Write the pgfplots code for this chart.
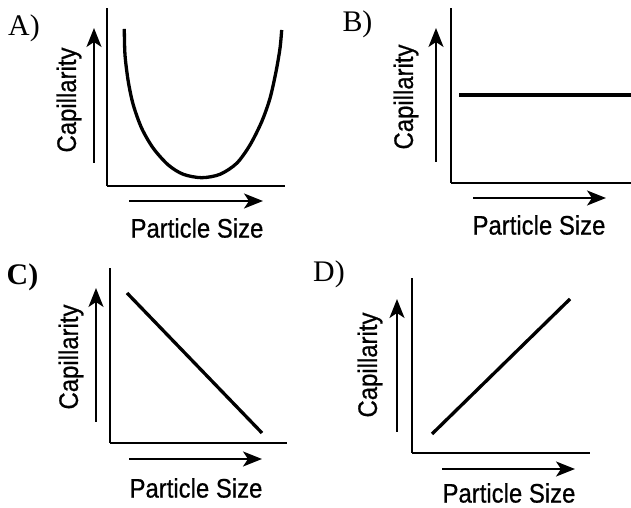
\documentclass[border=0pt]{standalone}
\usepackage{fontspec}
\setmainfont{Liberation Serif}
\newfontfamily\labelsans[FakeBold=0.7]{Liberation Sans}
\usepackage{graphicx}
\usepackage{pgfplots}
\pgfplotsset{compat=1.18}
\usetikzlibrary{arrows.meta}

\pgfplotsset{
  panel/.style={
    scale only axis, anchor=south west, clip=false,
    axis lines=left, axis line style={-, line width=2.1bp, black},
    xtick=\empty, ytick=\empty, xmin=0, ymin=0,
  },
  curve/.style={black, line width=3.3bp, no markers},
}
\tikzset{
  dirarrow/.style={line width=2.2bp, -{Stealth[length=19bp, width=15bp, inset=5bp]}},
  axlabel/.style={font=\labelsans\fontsize{24}{28}\selectfont, inner sep=0pt},
  tag/.style={font=\fontsize{30}{34}\selectfont},
}
\newcommand{\tall}[1]{\scalebox{1}[1.12]{#1}}

\begin{document}
\begin{tikzpicture}[x=1bp, y=1bp]
\useasboundingbox (0,0) rectangle (631,508);

% A) U-shaped
\begin{axis}[panel, at={(107,322)}, width=178bp, height=178bp, xmax=178, ymax=178]
  \addplot[curve, smooth] coordinates {
    (17.3,157) (18,131) (21.3,104.3) (26.3,81) (34.7,57.7) (46.3,37.7)
    (61.3,21) (76.3,11.7) (94.7,8.3) (113,11.7) (129.7,22.7) (143,41)
    (154.7,64.3) (163,87.7) (169,114.3) (173,137.7) (174.7,156)};
\end{axis}
\draw[dirarrow] (94,345) -- (94,480);
\draw[dirarrow] (129,307) -- (263,307);
\node[axlabel, rotate=90] at (69,408) {\tall{Capillarity}};
\node[axlabel] at (197,280) {\tall{Particle Size}};
\node[tag] at (24,480) {A)};

% B) constant
\begin{axis}[panel, at={(451,325)}, width=180bp, height=175bp, xmax=180, ymax=175]
  \addplot[curve] coordinates {(8,88) (180,88)};
\end{axis}
\draw[dirarrow] (436,346) -- (436,480);
\draw[dirarrow] (473,310) -- (606,310);
\node[axlabel, rotate=90] at (406,411) {\tall{Capillarity}};
\node[axlabel] at (539,283) {\tall{Particle Size}};
\node[tag] at (357.5,484) {B)};

% C) decreasing
\begin{axis}[panel, at={(110,65)}, width=177bp, height=175bp, xmax=177, ymax=175]
  \addplot[curve] coordinates {(17,150) (152,10)};
\end{axis}
\draw[dirarrow] (96,86) -- (96,220);
\draw[dirarrow] (129,49) -- (262,49);
\node[axlabel, rotate=90] at (71,151) {\tall{Capillarity}};
\node[axlabel] at (196,20) {\tall{Particle Size}};
\node[tag] at (22.5,230.5) {\bfseries C)};

% D) increasing
\begin{axis}[panel, at={(412,55)}, width=178bp, height=175bp, xmax=178, ymax=175]
  \addplot[curve] coordinates {(20,19) (158,154)};
\end{axis}
\draw[dirarrow] (397,76) -- (397,209);
\draw[dirarrow] (442,39) -- (575,39);
\node[axlabel, rotate=90] at (370,143) {\tall{Capillarity}};
\node[axlabel] at (509,15) {\tall{Particle Size}};
\node[tag] at (329,234) {D)};
\end{tikzpicture}
\end{document}
